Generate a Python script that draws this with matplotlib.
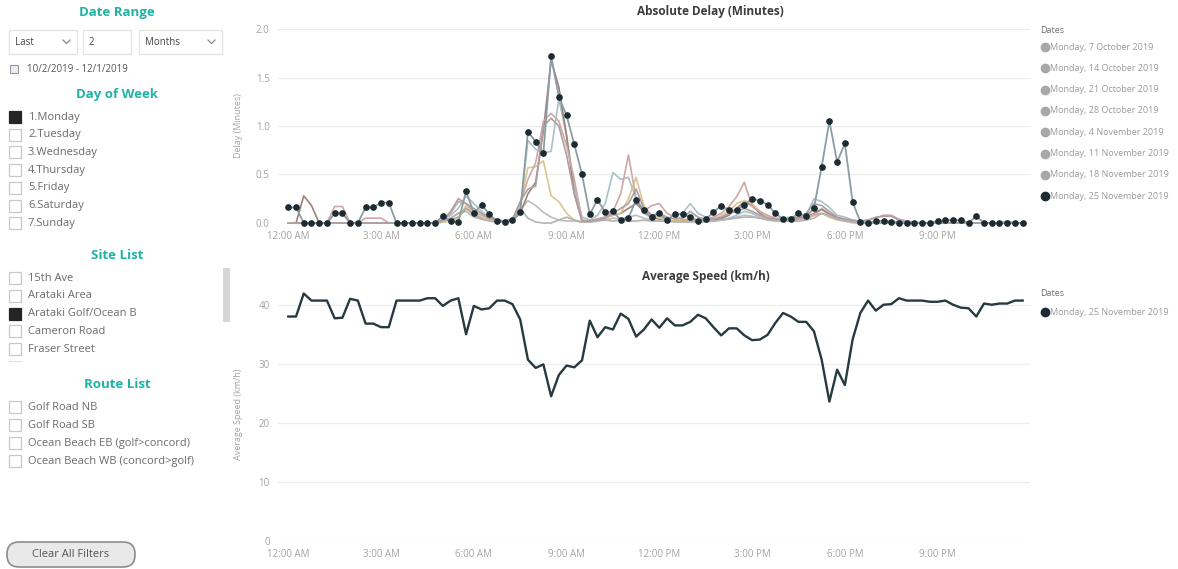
import matplotlib
matplotlib.use('Agg')
import matplotlib.pyplot as plt
from matplotlib.patches import Rectangle, FancyBboxPatch

plt.rcParams['font.family'] = ['Open Sans', 'DejaVu Sans']

W, H = 1178, 569

# ---- data -------------------------------------------------------------
slot = list(range(96))  # 15 minute slots over one day
tick_slots = [0, 12, 24, 36, 48, 60, 72, 84]
time_labels = ['12:00 AM', '3:00 AM', '6:00 AM', '9:00 AM',
               '12:00 PM', '3:00 PM', '6:00 PM', '9:00 PM']

date_names = ['Monday, 7 October 2019', 'Monday, 14 October 2019',
              'Monday, 21 October 2019', 'Monday, 28 October 2019',
              'Monday, 4 November 2019', 'Monday, 11 November 2019',
              'Monday, 18 November 2019', 'Monday, 25 November 2019']

delay_oct07 = [0] * 20 + [
    0.02, 0.05, 0.10, 0.12, 0.06, 0.04, 0.03, 0.02, 0.02, 0.04,
    0.14, 0.23, 0.18, 0.11, 0.06, 0.03, 0.02, 0.02, 0.01, 0.02,
    0.04, 0.03, 0.05, 0.04, 0.06, 0.08, 0.05, 0.03, 0.02, 0.02,
    0.02, 0.03, 0.02, 0.01, 0.01, 0.02, 0.03, 0.04, 0.06, 0.08,
    0.07, 0.05, 0.04, 0.03, 0.02, 0.02, 0.03, 0.04, 0.08, 0.15,
    0.10, 0.05, 0.03, 0.01, 0.0, 0.0, 0.0, 0.01, 0.01, 0.0] + [0] * 16
delay_oct14 = [0] * 20 + [
    0.03, 0.08, 0.15, 0.28, 0.20, 0.12, 0.06, 0.03, 0.02, 0.03,
    0.12, 0.85, 0.76, 0.72, 0.74, 1.28, 0.90, 0.38, 0.06, 0.03,
    0.08, 0.20, 0.52, 0.45, 0.47, 0.25, 0.10, 0.05, 0.07, 0.04,
    0.08, 0.10, 0.20, 0.10, 0.06, 0.05, 0.04, 0.05, 0.08, 0.12,
    0.10, 0.06, 0.05, 0.04, 0.05, 0.06, 0.05, 0.08, 0.25, 0.22,
    0.16, 0.08, 0.06, 0.03, 0.01, 0.01, 0.01, 0.02, 0.02, 0.01,
    0.0, 0.0, 0.0, 0.0, 0.01, 0.02, 0.03, 0.02] + [0] * 8
delay_oct21 = [0, 0, 0.28, 0.18] + [0] * 16 + [
    0.01, 0.03, 0.06, 0.15, 0.10, 0.05, 0.04, 0.03, 0.02, 0.03,
    0.10, 0.30, 0.42, 0.95, 1.68, 1.40, 0.90, 0.30, 0.02, 0.02,
    0.04, 0.06, 0.08, 0.10, 0.15, 0.20, 0.12, 0.06, 0.04, 0.03,
    0.02, 0.02, 0.03, 0.02, 0.02, 0.03, 0.05, 0.08, 0.15, 0.22,
    0.18, 0.10, 0.06, 0.04, 0.03, 0.03, 0.05, 0.06, 0.10, 0.14,
    0.09, 0.05, 0.03, 0.01] + [0] * 22
delay_oct28 = [0] * 20 + [
    0.01, 0.02, 0.05, 0.18, 0.10, 0.06, 0.03, 0.02, 0.01, 0.02,
    0.20, 0.57, 0.58, 0.64, 0.28, 0.22, 0.10, 0.03, 0.01, 0.01,
    0.03, 0.05, 0.08, 0.10, 0.25, 0.47, 0.18, 0.08, 0.05, 0.03,
    0.02, 0.02, 0.02, 0.01, 0.02, 0.04, 0.08, 0.12, 0.20, 0.23,
    0.20, 0.12, 0.06, 0.04, 0.03, 0.02, 0.03, 0.05, 0.09, 0.10,
    0.06, 0.03, 0.02] + [0] * 23
delay_nov04 = [0, 0, 0, 0, 0, 0, 0.17, 0.17, 0, 0,
               0.05, 0.05, 0.05, 0, 0, 0, 0, 0, 0, 0,
               0.03, 0.10, 0.22, 0.20, 0.12, 0.08, 0.05, 0.03, 0.02, 0.04,
               0.20, 0.45, 0.62, 1.05, 1.13, 1.05, 0.80, 0.45, 0.03, 0.02,
               0.04, 0.06, 0.12, 0.30, 0.70, 0.25, 0.12, 0.18, 0.20, 0.10,
               0.06, 0.04, 0.03, 0.03, 0.04, 0.06, 0.10, 0.17, 0.27, 0.42,
               0.17, 0.12, 0.08, 0.05, 0.04, 0.03, 0.04, 0.06, 0.08, 0.10,
               0.07, 0.04, 0.03, 0.02, 0.02, 0.03, 0.05, 0.08, 0.08, 0.04,
               0.02, 0.01, 0, 0, 0, 0, 0, 0, 0, 0,
               0, 0, 0, 0.02, 0, 0]
delay_nov11 = [0] * 20 + [
    0.02, 0.05, 0.10, 0.15, 0.08, 0.04, 0.02, 0.01, 0.01, 0.04,
    0.15, 0.05, 0.01, 0.0, 0.0, 0.03, 0.06, 0.03, 0.01, 0.01,
    0.02, 0.03, 0.02, 0.03, 0.02, 0.02, 0.03, 0.02, 0.02, 0.02,
    0.01, 0.01, 0.01, 0.01, 0.02, 0.02, 0.03, 0.04, 0.05, 0.06,
    0.06, 0.05, 0.03, 0.02, 0.02, 0.02, 0.02, 0.03, 0.05, 0.10,
    0.08, 0.04, 0.02, 0.01] + [0] * 22
delay_nov18 = [0] * 20 + [
    0.03, 0.12, 0.25, 0.20, 0.15, 0.10, 0.05, 0.03, 0.02, 0.04,
    0.22, 0.35, 0.38, 1.00, 1.08, 1.00, 0.70, 0.30, 0.02, 0.02,
    0.03, 0.05, 0.10, 0.15, 0.20, 0.35, 0.15, 0.08, 0.10, 0.06,
    0.04, 0.05, 0.12, 0.06, 0.04, 0.04, 0.06, 0.10, 0.12, 0.15,
    0.12, 0.08, 0.05, 0.04, 0.04, 0.05, 0.06, 0.10, 0.20, 0.18,
    0.12, 0.06, 0.04, 0.03, 0.02, 0.03, 0.06, 0.07, 0.07, 0.03] + [0] * 16
delay_nov25 = [0.16, 0.16, 0, 0, 0, 0, 0.10, 0.10, 0, 0,
               0.16, 0.16, 0.21, 0.21, 0, 0, 0, 0, 0, 0,
               0.07, 0.02, 0.01, 0.33, 0.10, 0.19, 0.09, 0.02, 0.01, 0.03,
               0.11, 0.94, 0.84, 0.72, 1.72, 1.30, 1.11, 0.81, 0.50, 0.09,
               0.24, 0.11, 0.12, 0.03, 0.05, 0.24, 0.13, 0.06, 0.10, 0.03,
               0.09, 0.09, 0.06, 0.02, 0.04, 0.11, 0.18, 0.13, 0.13, 0.19,
               0.25, 0.23, 0.19, 0.10, 0.04, 0.04, 0.10, 0.07, 0.15, 0.58,
               1.05, 0.63, 0.82, 0.22, 0.01, 0, 0.02, 0.02, 0.01, 0,
               0, 0, 0, 0, 0.02, 0.03, 0.03, 0.03, 0, 0.07,
               0, 0, 0, 0, 0, 0]

speed_nov25 = [38, 38, 41.9, 40.7, 40.7, 40.7, 37.7, 37.8, 41, 40.7,
               36.8, 36.8, 36.2, 36.2, 40.7, 40.7, 40.7, 40.7, 41.1, 41.1,
               39.8, 40.7, 41.1, 35, 39.8, 39.2, 39.4, 40.7, 40.7, 40.1,
               37.5, 30.7, 29.3, 29.9, 24.5, 28.1, 29.7, 29.4, 30.6, 37.3,
               34.5, 36.2, 35.8, 38.5, 37.6, 34.6, 35.8, 37.5, 36.1, 37.7,
               36.5, 36.5, 37.1, 38.3, 37.7, 36.2, 34.8, 36, 36, 34.8,
               34, 34.1, 34.9, 36.9, 38.6, 38, 37.1, 37.1, 35.5, 30.7,
               23.6, 29, 26.4, 34.1, 38.6, 40.7, 39, 40, 40.1, 41.1,
               40.7, 40.7, 40.7, 40.5, 40.5, 40.7, 40, 39.5, 39.4, 38,
               40.2, 40, 40.2, 40.2, 40.7, 40.7]

faded_series = [delay_oct07, delay_oct14, delay_oct21, delay_oct28,
                delay_nov04, delay_nov11, delay_nov18]
faded_colors = ['#bdbdbd', '#a9c2c6', '#9f8179', '#d9c690',
                '#d0a7a7', '#b3b3b3', '#ad9fa3']

day_items = ['1.Monday', '2.Tuesday', '3.Wednesday', '4.Thursday',
             '5.Friday', '6.Saturday', '7.Sunday']
site_items = ['15th Ave', 'Arataki Area', 'Arataki Golf/Ocean B',
              'Cameron Road', 'Fraser Street']
route_items = ['Golf Road NB', 'Golf Road SB', 'Ocean Beach EB (golf>concord)',
               'Ocean Beach WB (concord>golf)']

TEAL = '#1fb3a5'
LIST_GREY = '#6b6b6b'
AXIS_GREY = '#a3a3a3'
MAIN_DARK = '#1b2b31'


def box(x0, y0, x1, y1):
    return [x0 / W, 1 - y1 / H, (x1 - x0) / W, (y1 - y0) / H]


fig = plt.figure(figsize=(W / 100, H / 100), dpi=100)

# overlay in pixel units for the slicer panel and legends
ui = fig.add_axes([0, 0, 1, 1])
ui.set_xlim(0, W)
ui.set_ylim(H, 0)
ui.axis('off')

ax1 = fig.add_axes(box(278, 29, 1030, 223))
ax2 = fig.add_axes(box(278, 287, 1030, 541))

for ax in (ax1, ax2):
    for s in ax.spines.values():
        s.set_visible(False)
    ax.tick_params(length=0, labelsize=7, labelcolor=AXIS_GREY, pad=6)
    ax.grid(axis='y', color='#ededed', linewidth=0.9)
    ax.set_axisbelow(True)
    ax.set_xlim(-1.33, 95.95)
    ax.set_xticks(tick_slots)
    ax.set_xticklabels(time_labels)
    ax.patch.set_alpha(0)

# Absolute delay
for vals, col in zip(faded_series, faded_colors):
    ax1.plot(slot, vals, color=col, linewidth=1.2, clip_on=False)
ax1.plot(slot, delay_nov25, color='#8a9ea2', linewidth=1.3, marker='o',
         markersize=3.8, markerfacecolor=MAIN_DARK, markeredgecolor=MAIN_DARK,
         clip_on=False, zorder=5)
ax1.set_ylim(0, 2.0)
ax1.set_yticks([0, 0.5, 1.0, 1.5, 2.0])
ax1.set_yticklabels(['0.0', '0.5', '1.0', '1.5', '2.0'])
ax1.set_ylabel('Delay (Minutes)', fontsize=6.5, color=AXIS_GREY)
ax1.yaxis.set_label_coords(-0.046, 0.5)

# Average speed
ax2.plot(slot, speed_nov25, color='#263a40', linewidth=1.7)
ax2.set_ylim(0, 43)
ax2.set_yticks([0, 10, 20, 30, 40])
ax2.set_ylabel('Average Speed (km/h)', fontsize=6.5, color=AXIS_GREY)
ax2.yaxis.set_label_coords(-0.046, 0.5)

fig.text(710 / W, 1 - 11 / H, 'Absolute Delay (Minutes)', ha='center', va='center',
         fontsize=8.5, fontweight='bold', color='#3c3c3c')
fig.text(706 / W, 1 - 277 / H, 'Average Speed (km/h)', ha='center', va='center',
         fontsize=8.5, fontweight='bold', color='#3c3c3c')

# legends
ui.text(1040, 30, 'Dates', fontsize=6.5, color='#707070', va='center')
for i, name in enumerate(date_names):
    y = 47 + i * 21.3
    c = MAIN_DARK if i == len(date_names) - 1 else '#a8a8a8'
    ui.plot(1045, y, 'o', color=c, markersize=6)
    ui.text(1050.5, y, name, fontsize=6.5, color='#9a9a9a', va='center')
ui.text(1040, 293, 'Dates', fontsize=6.5, color='#707070', va='center')
ui.plot(1045, 312, 'o', color=MAIN_DARK, markersize=6)
ui.text(1050.5, 312, date_names[-1], fontsize=6.5, color='#9a9a9a', va='center')

# ---- slicer panel -----------------------------------------------------
def header(y, text):
    ui.text(117, y, text, ha='center', va='center', fontsize=9.5,
            fontweight='bold', color=TEAL)


def checklist(y0, items, selected, step):
    for i, t in enumerate(items):
        y = y0 + i * step
        fill = '#252525' if i == selected else 'white'
        edge = '#252525' if i == selected else '#c8c8c8'
        ui.add_patch(Rectangle((9, y - 6), 12, 12, facecolor=fill,
                               edgecolor=edge, linewidth=0.9))
        ui.text(28, y, t, va='center', fontsize=8, color=LIST_GREY)


header(12, 'Date Range')
for (x0, x1, label, chev) in [(9, 77, 'Last', True), (83, 131, '2', False),
                              (139, 222, 'Months', True)]:
    ui.add_patch(Rectangle((x0, 30), x1 - x0, 24, facecolor='white',
                           edgecolor='#e3e3e3', linewidth=0.9))
    ui.text(x0 + 6, 42, label, va='center', fontsize=7, color='#444444')
    if chev:
        ui.plot([x1 - 14, x1 - 10.5, x1 - 7], [40, 43.5, 40], color='#8a8a8a',
                linewidth=0.9)
ui.add_patch(Rectangle((10, 65), 8, 8, facecolor='#e8eef4', edgecolor='#9a9a9a',
                       linewidth=0.8))
ui.text(27, 69, '10/2/2019 - 12/1/2019', va='center', fontsize=7, color='#555555')

header(94, 'Day of Week')
checklist(117, day_items, 0, 17.7)

header(255, 'Site List')
checklist(278, site_items, 2, 17.8)
ui.add_patch(Rectangle((223, 268), 7, 54, facecolor='#d6d6d6', edgecolor='none'))
ui.plot([9, 21], [361, 361], color='#e0e0e0', linewidth=0.8)

header(384, 'Route List')
checklist(407, route_items, -1, 18)

ui.add_patch(FancyBboxPatch((7, 542), 128, 25,
                            boxstyle='round,pad=0,rounding_size=12',
                            facecolor='#e9e9e9', edgecolor='#8d8d8d', linewidth=1.2))
ui.text(71, 554.5, 'Clear All Filters', ha='center', va='center', fontsize=8,
        color='#555555')

fig.savefig('out.png', dpi=100)
